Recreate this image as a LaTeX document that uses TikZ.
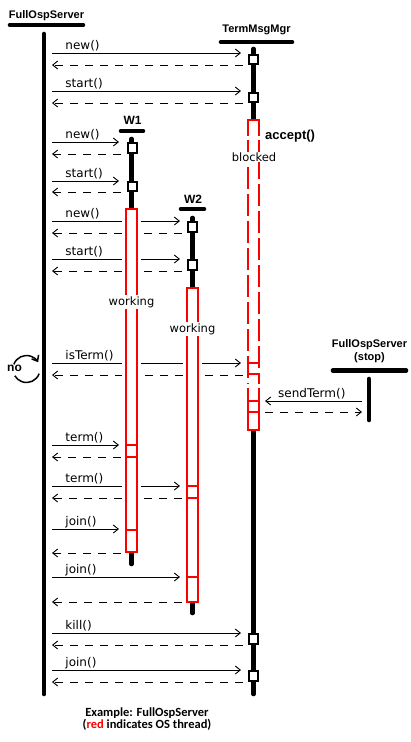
\documentclass[tikz,border=0pt]{standalone}
\usepackage{fontspec}
\setmainfont{DejaVu Sans}
\newfontfamily\headfont{Liberation Sans}
\newfontfamily\capfont{Carlito}
\usetikzlibrary{arrows.meta,positioning}

\tikzset{
  lifeline/.style={line width=4.6pt, line cap=round},
  headbar/.style={line width=4.6pt, line cap=round},
  head/.style={inner sep=0pt, align=center, font=\headfont\bfseries\fontsize{11}{13}\selectfont},
  call/.style={->, line width=0.9pt},
  ret/.style={->, line width=0.9pt, dash pattern=on 8pt off 7pt},
  lbl/.style={anchor=base west, inner sep=0pt, xshift=13pt, yshift=4pt, font=\fontsize{12}{13}\selectfont},
  callbox/.style={draw, line width=2pt, fill=white, minimum width=9pt, minimum height=9.5pt, inner sep=0pt},
  thread/.style={draw=red, line width=2pt},
  state/.style={fill=white, inner sep=1pt, font=\fontsize{11.5}{13}\selectfont}
}

\begin{document}
\begin{tikzpicture}[x=1pt, y=-1pt, >={Straight Barb[length=5pt,width=8pt]}]
\useasboundingbox (0,0) rectangle (410,742);

\node[head] (srv) at (46.5,16) {FullOspServer};
\draw[headbar] (10,25) -- (83,25);
\draw[lifeline] (44,34) -- (44,694);

\node[head] (tmm) at (256.5,30) {TermMsgMgr};
\draw[headbar] (221,42) -- (292,42);
\draw[lifeline] (253.5,49) -- (253.5,694);

\node[head, font=\headfont\bfseries\fontsize{12}{13}\selectfont] (w1) at (132.5,120) {W1};
\draw[headbar] (121,131) -- (143,131);
\draw[lifeline] (131.5,139) -- (131.5,564);

\node[head, font=\headfont\bfseries\fontsize{12}{13}\selectfont] (w2) at (193,199) {W2};
\draw[headbar] (181,209) -- (204,209);
\draw[lifeline] (192.5,218) -- (192.5,613);

\node[head] (stop) at (369.5,351.5) {FullOspServer\\(stop)};
\draw[headbar] (333,370.5) -- (406,370.5);
\draw[lifeline] (369,379) -- (369,420);

\coordinate (src) at (52,0);
\coordinate (tm) at (241,0);
\coordinate (wa) at (119,0);
\coordinate (wb) at (180,0);

\foreach \m/\ya/\yb/\t in {new()/53/65/tm, start()/91/103/tm, new()/142/154/wa, start()/181/192/wa,
  new()/221/233/wb, start()/259/271/wb, isTerm()/363/375/tm, term()/445/457/wa, term()/486/498/wb,
  join()/529/553/wa, join()/577/602/wb, kill()/633/645/tm, join()/670/682/tm}{
  \draw[call] (src |- 0,\ya) node[lbl] {\m} -- (\t |- 0,\ya);
  \draw[ret] ([xshift=2pt]\t |- 0,\yb) -- (src |- 0,\yb);
}

\coordinate (stp) at (362,0);
\coordinate (tmr) at (265,0);
\draw[call] (stp |- 0,401) -- (tmr |- 0,401);
\node[lbl] (snd) at (265,401) {sendTerm()};
\draw[ret] (tmr |- 0,412) -- (stp |- 0,412);

\fill[white] (122,208) rectangle (141,552);
\draw[thread] (126,209) rectangle (137,552);
\fill[white] (183,287) rectangle (202,602);
\draw[thread] (187,288) rectangle (198,602);

\fill[white] (247,119) rectangle (260,431);
\draw[thread] (248,136) -- (248,120) -- (259,120) -- (259,136);
\draw[thread, dash pattern=on 22pt off 5pt] (248,140) -- (248,384);
\draw[thread, dash pattern=on 22pt off 5pt, dash phase=10pt] (259,140) -- (259,384);
\draw[thread] (248,388) -- (248,430) -- (259,430) -- (259,388);

\foreach \x/\y in {131.5/445, 131.5/457, 131.5/530, 192.5/486, 192.5/498, 192.5/577,
  253.5/363, 253.5/374, 253.5/401, 253.5/412}
  \draw[thread] (\x-5.5,\y) -- (\x+5.5,\y);

\foreach \x/\y [count=\i] in {253.5/59.5, 253.5/97.5, 132/148, 132/186.5, 192.5/227, 192.5/265,
  253.5/639, 253.5/676}
  \node[callbox] (cb\i) at (\x,\y) {};

\node[state] (work1) at (131.5,302) {working};
\node[state] (work2) at (192.5,329) {working};
\node[state] (blk) at (254,157) {blocked};
\node[head, anchor=west, font=\headfont\bfseries\fontsize{13}{13}\selectfont] (acc) at (265,136) {accept()};

\coordinate (loop) at (26.5,369);
\draw[->, line width=1.5pt] ([shift={(200:13.5)}]loop) arc[start angle=200, end angle=330, radius=13.5];
\draw[line width=1.5pt] ([shift={(20:13.5)}]loop) arc[start angle=20, end angle=150, radius=13.5];
\node[head, font=\headfont\bfseries\fontsize{12}{13}\selectfont] (no) at (14.5,368) {no};

\node[align=center, font=\capfont\bfseries\fontsize{12.5}{12}\selectfont] (cap) at (147,719.5)
  {Example: FullOspServer\\({\color{red}red} indicates OS thread)};
\end{tikzpicture}
\end{document}
